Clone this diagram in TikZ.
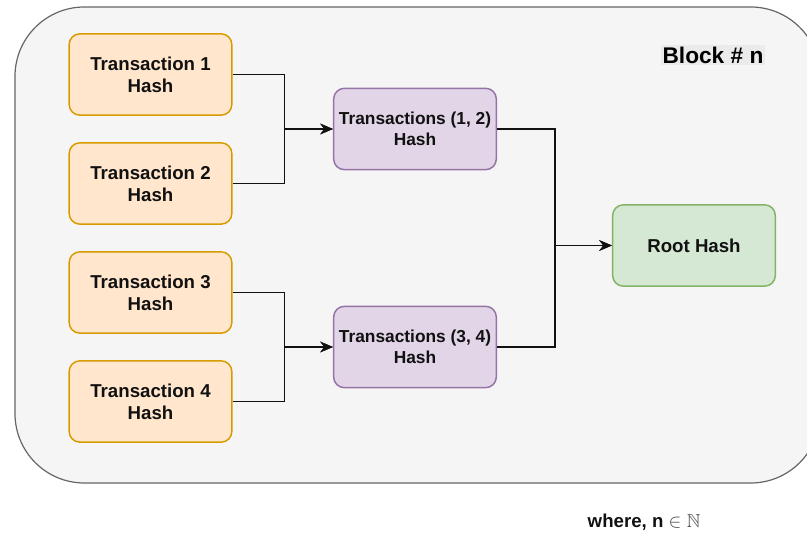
\documentclass[tikz,border=0pt]{standalone}
\usepackage{fontspec}
\usepackage{amssymb}
\setmainfont{Liberation Sans}
\usetikzlibrary{arrows.meta,positioning}
\definecolor{blockbg}{HTML}{F5F5F5}
\definecolor{blockline}{HTML}{666666}
\definecolor{labelbg}{HTML}{EBEBEB}
\definecolor{txfill}{HTML}{FFE6CC}
\definecolor{txline}{HTML}{D79B00}
\definecolor{pairfill}{HTML}{E1D5E7}
\definecolor{pairline}{HTML}{9673A6}
\definecolor{rootfill}{HTML}{D5E8D4}
\definecolor{rootline}{HTML}{82B366}
\definecolor{ink}{HTML}{111111}
\definecolor{mathgray}{HTML}{444444}
\tikzset{
  hashbox/.style={line width=1.1pt,rounded corners=8pt,
                  minimum width=122pt,minimum height=61pt,
                  align=center,inner sep=1pt,text=ink,
                  font=\fontsize{14}{16.5}\selectfont\bfseries},
  txbox/.style={hashbox,draw=txline,fill=txfill},
  pairbox/.style={hashbox,draw=pairline,fill=pairfill,
                  font=\fontsize{13}{16}\selectfont\bfseries},
  rootbox/.style={hashbox,draw=rootline,fill=rootfill},
  link/.style={-{Stealth[length=9.5pt,width=8pt,inset=3pt]},line width=1.1pt,color=ink}
}

\begin{document}
\begin{tikzpicture}[x=0.75pt,y=-0.75pt]
  \useasboundingbox (0,0) rectangle (807,534);
  \clip (0,0) rectangle (807,534);
  % block container
  \draw[draw=blockline,fill=blockbg,line width=0.9pt,rounded corners=52pt]
    (15,7) rectangle (820,483);
  \node[fill=labelbg,inner sep=1pt,font=\fontsize{17}{20}\selectfont\bfseries] (blocklbl) at (713,55) {Block \# n};

  % leaves
  \node[txbox] (t1) at (150.5,74.5) {Transaction 1\\Hash};
  \node[txbox] (t2) at (150.5,183.5) {Transaction 2\\Hash};
  \node[txbox] (t3) at (150.5,292.5) {Transaction 3\\Hash};
  \node[txbox] (t4) at (150.5,401.5) {Transaction 4\\Hash};

  % pairs and root
  \node[pairbox] (t12) at (415,129) {Transactions (1, 2)\\Hash};
  \node[pairbox] (t34) at (415,347) {Transactions (3, 4)\\Hash};
  \node[rootbox] (root) at (694,245.5) {Root Hash};

  \draw[link] (t1.east) -- ++(52,0) |- (t12.west);
  \draw[link] (t2.east) -- ++(52,0) |- (t12.west);
  \draw[link] (t3.east) -- ++(52,0) |- (t34.west);
  \draw[link] (t4.east) -- ++(52,0) |- (t34.west);
  \draw[link] (t12.east) -- ++(58,0) |- (root.west);
  \draw[link] (t34.east) -- ++(58,0) |- (root.west);

  \node[font=\fontsize{14}{16}\selectfont\bfseries,text=ink] (where) at (644,522)
    {where, n \textcolor{mathgray}{$\in \mathbb{N}$}};
\end{tikzpicture}
\end{document}
